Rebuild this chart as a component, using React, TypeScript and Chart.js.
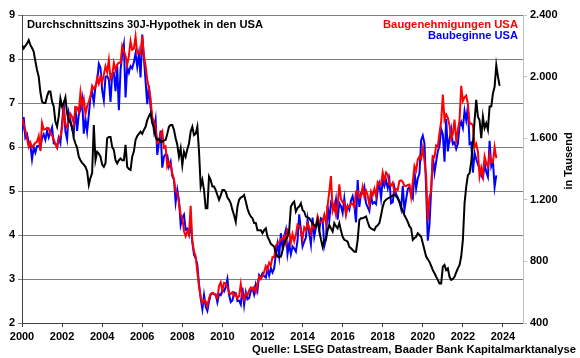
import React, { useEffect, useRef } from "react";
import { Chart, registerables } from "chart.js";

Chart.register(...registerables);

const FONT = '"Liberation Sans", Arial, sans-serif';

const TITLE = "Durchschnittszins 30J-Hypothek in den USA";
const LEGEND_PERMITS = "Baugenehmigungen USA";
const LEGEND_STARTS = "Baubeginne USA";
const SOURCE = "Quelle: LSEG Datastream, Baader Bank Kapitalmarktanalyse";
const RIGHT_AXIS_TITLE = "in Tausend";

const startYear = 2000;
const xTickYears = [2000, 2002, 2004, 2006, 2008, 2010, 2012, 2014, 2016, 2018, 2020, 2022, 2024];

// 30-year mortgage rate, % (monthly, Jan 2000 - Nov 2023)
const mortgageRate = [
  8.32, 8.24, 8.3, 8.35, 8.43, 8.32, 8.25, 8.17, 7.95, 7.75, 7.6, 7.25,
  7.03, 7.0, 7.0, 7.15, 7.26, 7.26, 7.03, 6.92, 6.58, 6.46, 6.7, 7.1,
  6.92, 7.0, 7.13, 6.77, 6.6, 6.55, 6.46, 6.2, 6.08, 5.98, 5.78, 5.7,
  5.64, 5.6, 5.55, 5.45, 5.14, 5.3, 5.41, 6.5, 5.7, 5.89, 5.85, 5.78,
  5.6, 5.55, 5.63, 6.2, 6.23, 6.23, 6.0, 5.93, 5.7, 5.63, 5.7, 5.74,
  5.7, 5.7, 6.05, 5.55, 5.5, 5.48, 5.78, 5.9, 6.16, 6.25, 6.3, 6.35,
  6.3, 6.39, 6.46, 6.61, 6.7, 6.77, 6.54, 6.45, 6.23, 6.16, 6.18, 6.12,
  6.12, 6.15, 6.16, 6.3, 6.46, 6.5, 6.5, 6.39, 6.2, 6.05, 5.78, 5.97,
  5.59, 5.89, 5.78, 5.95, 6.08, 6.35, 6.46, 6.27, 6.3, 6.46, 5.9, 5.1,
  5.25, 5.02, 4.61, 4.61, 5.33, 5.25, 5.1, 5.1, 5.02, 4.91, 4.8, 4.9,
  5.02, 5.02, 4.98, 4.85, 4.8, 4.72, 4.57, 4.45, 4.3, 4.64, 4.8, 4.85,
  4.87, 4.91, 4.76, 4.6, 4.49, 4.42, 4.38, 4.27, 4.27, 4.11, 4.11, 4.11,
  4.04, 4.11, 4.15, 3.96, 3.89, 3.8, 3.77, 3.73, 3.6, 3.51, 3.5, 3.51,
  3.65, 3.81, 3.9, 3.96, 4.11, 4.64, 4.72, 4.76, 4.53, 4.61, 4.65, 4.72,
  4.57, 4.53, 4.42, 4.4, 4.38, 4.32, 4.27, 4.22, 4.19, 4.34, 4.11, 3.9,
  3.73, 3.89, 3.89, 4.11, 4.23, 4.15, 4.08, 4.27, 4.2, 4.15, 4.27, 4.1,
  3.96, 3.89, 3.87, 3.85, 3.73, 3.7, 3.66, 3.62, 3.62, 3.89, 4.34, 4.38,
  4.38, 4.4, 4.42, 4.3, 4.19, 4.15, 4.13, 4.11, 4.19, 4.22, 4.27, 4.45,
  4.64, 4.76, 4.8, 4.83, 4.85, 4.87, 4.9, 4.91, 4.88, 4.83, 4.75, 4.64,
  4.55, 4.45, 4.38, 4.3, 4.2, 4.15, 3.89, 3.93, 3.96, 4.04, 4.0, 3.96,
  3.81, 3.66, 3.51, 3.45, 3.39, 3.3, 3.2, 3.13, 3.05, 2.98, 2.9, 2.9,
  3.28, 3.32, 3.2, 3.24, 3.05, 2.98, 3.0, 3.05, 3.15, 3.24, 3.32, 3.51,
  3.89, 4.72, 5.1, 5.36, 5.4, 5.67, 6.08, 6.6, 7.07, 6.69, 6.61, 6.2,
  6.69, 6.43, 6.54, 6.39, 6.92, 6.92, 7.22, 7.37, 7.86, 7.6, 7.39,
];

// Building permits, thousand units SAAR (Jan 2000 - Sep 2023)
const buildingPermits = [
  1727, 1692, 1651, 1597, 1543, 1572, 1542, 1552, 1570, 1577, 1614, 1517,
  1699, 1656, 1659, 1666, 1665, 1626, 1620, 1591, 1562, 1540, 1602, 1610,
  1665, 1787, 1691, 1669, 1716, 1758, 1738, 1695, 1803, 1799, 1771, 1896,
  1808, 1854, 1757, 1808, 1838, 1873, 1940, 1919, 1931, 1992, 1954, 2003,
  1962, 2013, 2067, 2030, 2108, 1985, 2008, 2090, 2043, 2078, 2091, 2088,
  2199, 2165, 2136, 2076, 2134, 2230, 2174, 2181, 2261, 2150, 2160, 2147,
  2265, 2136, 2072, 1979, 1926, 1858, 1728, 1714, 1665, 1567, 1574, 1628,
  1646, 1539, 1547, 1416, 1445, 1428, 1371, 1336, 1252, 1244, 1180, 1104,
  1082, 996, 963, 996, 976, 1161, 931, 864, 832, 730, 636, 569,
  530, 550, 540, 510, 560, 589, 595, 591, 576, 561, 640, 664,
  611, 661, 657, 632, 595, 589, 600, 575, 589, 560, 574, 653,
  570, 551, 594, 581, 613, 630, 616, 634, 601, 653, 701, 685,
  705, 732, 769, 745, 791, 775, 828, 826, 903, 918, 925, 946,
  942, 968, 918, 1008, 999, 921, 977, 931, 974, 1039, 1031, 1009,
  948, 1021, 1003, 1046, 1019, 982, 1043, 1018, 1031, 1092, 1052, 1058,
  1059, 1103, 1049, 1163, 1253, 1354, 1130, 1172, 1105, 1161, 1301, 1204,
  1183, 1187, 1102, 1159, 1154, 1176, 1173, 1152, 1255, 1256, 1212, 1226,
  1285, 1219, 1260, 1229, 1168, 1254, 1230, 1272, 1225, 1316, 1303, 1300,
  1377, 1323, 1377, 1364, 1301, 1292, 1311, 1249, 1270, 1265, 1322, 1326,
  1317, 1291, 1288, 1296, 1299, 1220, 1317, 1419, 1391, 1461, 1482, 1466,
  1536, 1452, 1356, 1066, 1216, 1258, 1483, 1476, 1553, 1544, 1635, 1709,
  1883, 1720, 1755, 1733, 1683, 1594, 1630, 1721, 1586, 1653, 1717, 1940,
  1841, 1865, 1877, 1823, 1695, 1696, 1685, 1542, 1564, 1512, 1351, 1409,
  1354, 1482, 1437, 1417, 1496, 1441, 1443, 1543, 1471,
];

// Housing starts, thousand units SAAR (Jan 2000 - Sep 2023)
const housingStarts = [
  1636, 1737, 1604, 1626, 1575, 1559, 1463, 1541, 1507, 1549, 1551, 1532,
  1600, 1625, 1590, 1649, 1605, 1636, 1670, 1567, 1562, 1540, 1602, 1568,
  1698, 1829, 1642, 1592, 1764, 1717, 1655, 1633, 1804, 1648, 1753, 1788,
  1853, 1629, 1726, 1643, 1751, 1867, 1897, 1833, 1939, 1967, 2083, 2057,
  1911, 1846, 1998, 2003, 1981, 1836, 2018, 2024, 1905, 2072, 1782, 2042,
  2144, 2207, 1864, 2061, 2025, 2068, 2054, 2095, 2151, 2065, 2147, 1994,
  2273, 2119, 1969, 1821, 1942, 1802, 1737, 1650, 1720, 1491, 1570, 1649,
  1409, 1480, 1495, 1490, 1415, 1448, 1354, 1330, 1183, 1264, 1197, 1037,
  1084, 1103, 1005, 1013, 973, 1046, 923, 844, 820, 777, 652, 560,
  490, 582, 505, 478, 540, 585, 594, 586, 585, 534, 588, 581,
  614, 604, 636, 687, 583, 536, 546, 599, 594, 543, 545, 520,
  630, 517, 600, 554, 561, 608, 623, 585, 650, 610, 711, 694,
  723, 704, 695, 753, 708, 757, 728, 754, 847, 915, 833, 983,
  888, 962, 1005, 847, 915, 847, 898, 883, 863, 936, 1105, 1003,
  897, 928, 954, 1073, 984, 910, 1084, 961, 1023, 1074, 1002, 1080,
  1072, 898, 944, 1162, 1067, 1178, 1151, 1133, 1201, 1071, 1179, 1159,
  1114, 1208, 1113, 1160, 1136, 1195, 1223, 1164, 1054, 1328, 1154, 1243,
  1242, 1282, 1177, 1153, 1127, 1225, 1175, 1185, 1172, 1264, 1303, 1210,
  1334, 1290, 1327, 1276, 1329, 1177, 1184, 1282, 1237, 1217, 1187, 1142,
  1291, 1134, 1203, 1270, 1282, 1236, 1211, 1386, 1274, 1340, 1371, 1587,
  1617, 1567, 1269, 934, 1038, 1265, 1487, 1376, 1448, 1515, 1551, 1661,
  1625, 1447, 1725, 1514, 1594, 1657, 1562, 1573, 1530, 1563, 1678, 1706,
  1666, 1777, 1716, 1805, 1562, 1571, 1377, 1505, 1463, 1432, 1401, 1357,
  1340, 1436, 1380, 1348, 1583, 1418, 1451, 1283, 1358,
];

const toPoints = (values: number[]) =>
  values.map((v, i) => ({ x: startYear + i / 12, y: v }));

function drawFit(
  ctx: CanvasRenderingContext2D,
  text: string,
  x: number,
  y: number,
  target: number,
  align: CanvasTextAlign,
  color: string
) {
  ctx.save();
  ctx.font = `bold 11px ${FONT}`;
  const w = ctx.measureText(text).width;
  const s = Math.max(0.75, Math.min(1.15, target / w));
  ctx.translate(x, y);
  ctx.scale(s, 1);
  ctx.textAlign = align;
  ctx.textBaseline = "alphabetic";
  ctx.fillStyle = color;
  ctx.fillText(text, 0, 0);
  ctx.restore();
}

const textPlugin = {
  id: "textPlugin",
  afterDraw(chart: any) {
    const ctx: CanvasRenderingContext2D = chart.ctx;
    drawFit(ctx, TITLE, 27, 28, 236, "left", "#000000");
    drawFit(ctx, LEGEND_PERMITS, 518, 27.5, 135, "right", "#ff0000");
    drawFit(ctx, LEGEND_STARTS, 518, 39, 90, "right", "#0000ff");
    drawFit(ctx, SOURCE, 576, 353, 324, "right", "#000000");
    ctx.save();
    ctx.translate(572, 161);
    ctx.rotate(-Math.PI / 2);
    ctx.font = `bold 11px ${FONT}`;
    ctx.textAlign = "center";
    ctx.textBaseline = "alphabetic";
    ctx.fillStyle = "#000000";
    ctx.fillText(RIGHT_AXIS_TITLE, 0, 0);
    ctx.restore();
  },
};

export default function App() {
  const ref = useRef<HTMLCanvasElement | null>(null);

  useEffect(() => {
    if (!ref.current) return;
    const tickFont = { family: FONT, size: 11, weight: "bold" as const };
    const chart = new Chart(ref.current, {
      type: "line",
      data: {
        datasets: [
          {
            label: "Durchschnittszins 30J-Hypothek",
            data: toPoints(mortgageRate),
            borderColor: "#000000",
            borderWidth: 2,
            pointRadius: 0,
            yAxisID: "y",
            order: 0,
          },
          {
            label: LEGEND_PERMITS,
            data: toPoints(buildingPermits),
            borderColor: "#ff0000",
            borderWidth: 2,
            pointRadius: 0,
            yAxisID: "y2",
            order: 1,
          },
          {
            label: LEGEND_STARTS,
            data: toPoints(housingStarts),
            borderColor: "#0000ff",
            borderWidth: 2,
            pointRadius: 0,
            yAxisID: "y2",
            order: 2,
          },
        ],
      },
      options: {
        animation: false,
        responsive: false,
        devicePixelRatio: 1,
        layout: { padding: { top: 15, left: 0, right: 0, bottom: 0 } },
        plugins: {
          legend: { display: false },
          tooltip: { enabled: false },
          title: { display: false },
        },
        scales: {
          x: {
            type: "linear",
            position: "bottom",
            min: 2000,
            max: 2025,
            bounds: "data",
            afterBuildTicks: (scale: any) => {
              scale.ticks = xTickYears.map((v) => ({ value: v }));
            },
            afterFit: (scale: any) => {
              scale.height = 35;
            },
            grid: {
              drawOnChartArea: false,
              drawTicks: true,
              tickLength: 4,
              color: "#404040",
            },
            border: { color: "#404040", width: 1 },
            ticks: {
              font: tickFont,
              color: "#000000",
              padding: 3,
              maxRotation: 0,
              autoSkip: false,
              callback: (v: any) => String(v),
            },
          },
          y: {
            position: "left",
            min: 2,
            max: 9,
            afterFit: (scale: any) => {
              scale.width = 22;
            },
            grid: {
              color: "#808080",
              lineWidth: 1,
              drawTicks: true,
              tickLength: 4,
            },
            border: { color: "#404040", width: 1 },
            ticks: {
              stepSize: 1,
              font: tickFont,
              color: "#000000",
              padding: 3,
            },
          },
          y2: {
            position: "right",
            min: 400,
            max: 2400,
            afterFit: (scale: any) => {
              scale.width = 57;
            },
            grid: {
              drawOnChartArea: false,
              drawTicks: true,
              tickLength: 4,
              color: "#c0c0c0",
            },
            border: { color: "#c0c0c0", width: 1 },
            ticks: {
              stepSize: 400,
              font: tickFont,
              color: "#000000",
              padding: 3,
              callback: (v: any) =>
                Number(v) >= 1000
                  ? `${Math.floor(Number(v) / 1000)}.${String(Number(v) % 1000).padStart(3, "0")}`
                  : String(v),
            },
          },
        },
      },
      plugins: [textPlugin],
    });
    return () => chart.destroy();
  }, []);

  return (
    <div style={{ position: "absolute", left: 0, top: 0, width: 580, height: 358, background: "#ffffff" }}>
      <canvas ref={ref} width={580} height={358} style={{ display: "block" }} />
    </div>
  );
}
